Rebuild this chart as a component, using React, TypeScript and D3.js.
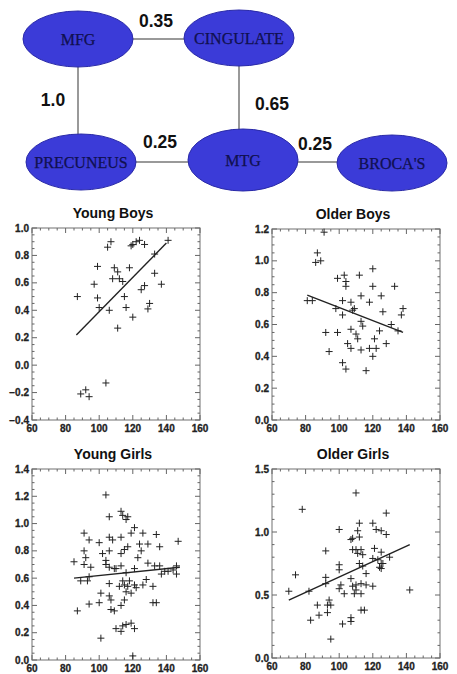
import React from "react";
import * as d3 from "d3";

const W = 457;
const H = 674;

// network nodes and edges
const nodeNames = ["MFG", "CINGULATE", "PRECUNEUS", "MTG", "BROCA'S"];
const nodeX = [78, 239, 81, 243, 392];
const nodeY = [39, 38, 162, 160, 163];
const edgeFrom = [0, 0, 1, 2, 3];
const edgeTo = [1, 2, 3, 3, 4];
const edgeLabels = ["0.35", "1.0", "0.65", "0.25", "0.25"];
const edgeLabelX = [156, 53, 272, 160, 315];
const edgeLabelY = [27, 106, 110, 148, 150];

// scatter panels
const titles = ["Young Boys", "Older Boys", "Young Girls", "Older Girls"];
const yDomains = [[-0.4, 1.0], [0.0, 1.2], [0.0, 1.4], [0.0, 1.5]];
const yTickSteps = [0.2, 0.2, 0.2, 0.5];
const xTicks = [60, 80, 100, 120, 140, 160];

const youngBoys = [
  [87, 0.5], [99, 0.72], [97, 0.59], [99, 0.49], [100, 0.42], [106, 0.4], [105, 0.86],
  [107, 0.9], [109, 0.71], [111, 0.68], [108, 0.63], [112, 0.63], [114, 0.61], [115, 0.5],
  [116, 0.42], [118, 0.71], [120, 0.35], [111, 0.27], [119, 0.87], [120, 0.88], [122, 0.9],
  [124, 0.91], [127, 0.88], [133, 0.81], [133, 0.67], [137, 0.59], [127, 0.58], [125, 0.55],
  [130, 0.45], [129, 0.41], [141, 0.91], [104, -0.13], [89, -0.21], [92, -0.18], [94, -0.23],
];
const olderBoys = [
  [91, 1.18], [87, 1.05], [89, 1.0], [86, 0.99], [81, 0.75], [84, 0.75], [92, 0.55], [94, 0.43],
  [99, 0.89], [99, 0.55], [98, 0.7], [103, 0.91], [104, 0.87], [104, 0.84], [102, 0.75],
  [102, 0.66], [105, 0.48], [107, 0.57], [108, 0.69], [107, 0.45], [109, 0.7], [110, 0.54],
  [111, 0.51], [112, 0.91], [113, 0.78], [113, 0.62], [114, 0.59], [113, 0.44], [102, 0.36],
  [104, 0.32], [116, 0.31], [118, 0.74], [118, 0.45], [120, 0.4], [120, 0.95], [120, 0.84],
  [121, 0.51], [122, 0.45], [124, 0.56], [126, 0.68], [125, 0.78], [128, 0.48], [131, 0.6],
  [133, 0.84], [137, 0.66], [138, 0.7], [135, 0.56], [107, 0.74],
];
const youngGirls = [
  [85, 0.72], [87, 0.36], [91, 0.93], [91, 0.8], [92, 0.75], [91, 0.7], [94, 0.88], [95, 0.68],
  [89, 0.58], [93, 0.58], [94, 0.61], [94, 0.41], [100, 0.42], [101, 0.49], [100, 0.86],
  [102, 0.78], [104, 0.73], [101, 0.16], [104, 1.21], [106, 1.05], [106, 0.9], [106, 0.8],
  [108, 0.88], [104, 0.7], [106, 0.68], [109, 0.67], [110, 0.67], [106, 0.56], [106, 0.47],
  [107, 0.44], [107, 0.37], [109, 0.36], [110, 0.23], [113, 0.9], [113, 1.09], [114, 1.06],
  [117, 1.05], [116, 1.03], [113, 0.78], [115, 0.81], [117, 0.83], [113, 0.69], [116, 0.64],
  [112, 0.54], [114, 0.58], [115, 0.55], [116, 0.5], [117, 0.54], [118, 0.58], [113, 0.4],
  [115, 0.44], [113, 0.21], [114, 0.25], [116, 0.26], [119, 0.27], [121, 0.23], [120, 0.03],
  [119, 0.93], [121, 0.97], [121, 0.67], [121, 0.55], [122, 0.53], [119, 0.49], [124, 0.85],
  [125, 0.8], [123, 0.75], [126, 0.93], [126, 0.55], [128, 0.59], [129, 0.71], [129, 0.85],
  [132, 0.54], [132, 0.42], [134, 0.42], [134, 0.92], [133, 0.69], [136, 0.69], [136, 0.83],
  [137, 0.63], [139, 0.65], [141, 0.65], [144, 0.66], [146, 0.69], [146, 0.63], [147, 0.87],
];
const olderGirls = [
  [70, 0.53], [74, 0.66], [78, 1.18], [82, 0.53], [83, 0.3], [87, 0.42], [88, 0.34], [92, 0.85],
  [92, 0.64], [92, 0.59], [93, 0.42], [93, 0.36], [94, 0.46], [95, 0.42], [95, 0.15], [100, 1.02],
  [100, 0.74], [100, 0.7], [100, 0.55], [101, 0.58], [102, 0.27], [103, 0.51], [107, 0.94],
  [108, 0.95], [108, 0.86], [107, 0.63], [108, 0.57], [107, 0.32], [107, 0.29], [110, 1.31],
  [111, 1.01], [112, 1.07], [112, 0.96], [110, 0.86], [111, 0.83], [112, 0.75], [113, 0.86],
  [110, 0.54], [109, 0.51], [110, 0.58], [113, 0.59], [113, 0.51], [114, 0.82], [114, 0.73],
  [113, 0.38], [115, 0.38], [116, 0.67], [116, 0.58], [120, 0.57], [120, 1.07], [122, 1.02],
  [121, 0.87], [120, 0.79], [123, 0.78], [124, 0.72], [125, 0.75], [125, 0.71], [126, 0.75],
  [125, 0.84], [125, 1.01], [128, 0.98], [128, 1.15], [130, 0.8], [142, 0.54],
];
const panelData = [youngBoys, olderBoys, youngGirls, olderGirls];

// fitted lines: [x1, y1, x2, y2]
const fitLines = [
  [86.4, 0.22, 140, 0.89],
  [81, 0.785, 138, 0.55],
  [85, 0.6, 148, 0.68],
  [70, 0.46, 142, 0.9],
];

const boxes = [
  { left: 32, top: 228, right: 200, bottom: 420 },
  { left: 272, top: 229, right: 440, bottom: 420 },
  { left: 32, top: 469, right: 200, bottom: 660 },
  { left: 272, top: 469, right: 440, bottom: 658 },
];

const ink = "#222";
const sans = "Liberation Sans, Arial, sans-serif";

function Panel({ i }: { i: number }) {
  const b = boxes[i];
  const x = d3.scaleLinear().domain([60, 160]).range([b.left, b.right]);
  const [y0, y1] = yDomains[i];
  const y = d3.scaleLinear().domain([y0, y1]).range([b.bottom, b.top]);
  const step = yTickSteps[i];
  const yTicks = d3.range(y0, y1 + step / 2, step);
  const minorStep = step === 0.5 ? 0.1 : 0.05;
  const yMinor = d3.range(y0, y1 + minorStep / 2, minorStep);
  const xMinor = d3.range(60, 161, 5);
  const fl = fitLines[i];
  const fmt = d3.format(".1f");
  const arm = 3.5;
  return (
    <g>
      <text x={(b.left + b.right) / 2 - 3} y={b.top - 10} textAnchor="middle" fontFamily={sans} fontWeight="bold" fontSize={14} fill="#111">
        {titles[i]}
      </text>
      <rect x={b.left} y={b.top} width={b.right - b.left} height={b.bottom - b.top} fill="none" stroke="#888" strokeWidth={1.2} />
      {xMinor.map((v) => {
        const len = v % 20 === 0 ? 5 : 2.5;
        return (
          <g key={"xm" + v} stroke="#666" strokeWidth={1}>
            <line x1={x(v)} x2={x(v)} y1={b.bottom} y2={b.bottom - len} />
            <line x1={x(v)} x2={x(v)} y1={b.top} y2={b.top + len} />
          </g>
        );
      })}
      {yMinor.map((v, k) => {
        const major = yTicks.some((t) => Math.abs(t - v) < 1e-6);
        const len = major ? 5 : 2.5;
        return (
          <g key={"ym" + k} stroke="#666" strokeWidth={1}>
            <line x1={b.left} x2={b.left + len} y1={y(v)} y2={y(v)} />
            <line x1={b.right} x2={b.right - len} y1={y(v)} y2={y(v)} />
          </g>
        );
      })}
      {xTicks.map((v) => (
        <text key={"xt" + v} x={x(v)} y={b.bottom + 12} textAnchor="middle" fontFamily={sans} fontWeight="bold" fontSize={10} fill={ink} stroke={ink} strokeWidth={0.3}>
          {v}
        </text>
      ))}
      {yTicks.map((v, k) => (
        <text key={"yt" + k} x={b.left - 3} y={y(v) + 3.5} textAnchor="end" fontFamily={sans} fontWeight="bold" fontSize={10} fill={ink} stroke={ink} strokeWidth={0.3}>
          {fmt(Math.abs(v) < 1e-9 ? 0 : v)}
        </text>
      ))}
      <line x1={x(fl[0])} y1={y(fl[1])} x2={x(fl[2])} y2={y(fl[3])} stroke="#222" strokeWidth={1.4} />
      {panelData[i].map((p, k) => (
        <g key={"p" + k} stroke="#222" strokeWidth={1}>
          <line x1={x(p[0]) - arm} x2={x(p[0]) + arm} y1={y(p[1])} y2={y(p[1])} />
          <line x1={x(p[0])} x2={x(p[0])} y1={y(p[1]) - arm} y2={y(p[1]) + arm} />
        </g>
      ))}
    </g>
  );
}

export default function App() {
  return (
    <svg width={W} height={H} style={{ position: "absolute", left: 0, top: 0, background: "#fff" }}>
      {edgeFrom.map((f, k) => {
        const t = edgeTo[k];
        const vertical = Math.abs(nodeX[f] - nodeX[t]) < 10;
        const yh = k >= 3 ? nodeY[3] + 2 : nodeY[f];
        return vertical ? (
          <line key={"e" + k} x1={nodeX[f]} y1={nodeY[f]} x2={nodeX[f]} y2={nodeY[t]} stroke="#999" strokeWidth={2} />
        ) : (
          <line key={"e" + k} x1={nodeX[f]} y1={yh} x2={nodeX[t]} y2={yh} stroke="#999" strokeWidth={2} />
        );
      })}
      {nodeNames.map((n, k) => (
        <g key={"n" + k}>
          <ellipse cx={nodeX[k]} cy={nodeY[k]} rx={55} ry={k === 3 ? 31 : 28} fill="#3b3bd8" stroke="#2a2aa8" strokeWidth={1} />
          <text x={nodeX[k]} y={nodeY[k] + 5.5} textAnchor="middle" fontFamily="Liberation Serif, Times New Roman, serif" fontSize={16} fill="#101050" stroke="#101050" strokeWidth={0.25}>
            {n}
          </text>
        </g>
      ))}
      {edgeLabels.map((l, k) => (
        <text key={"l" + k} x={edgeLabelX[k]} y={edgeLabelY[k]} textAnchor="middle" fontFamily={sans} fontWeight="bold" fontSize={17.5} fill="#111">
          {l}
        </text>
      ))}
      {titles.map((t, i) => (
        <Panel key={t} i={i} />
      ))}
    </svg>
  );
}
